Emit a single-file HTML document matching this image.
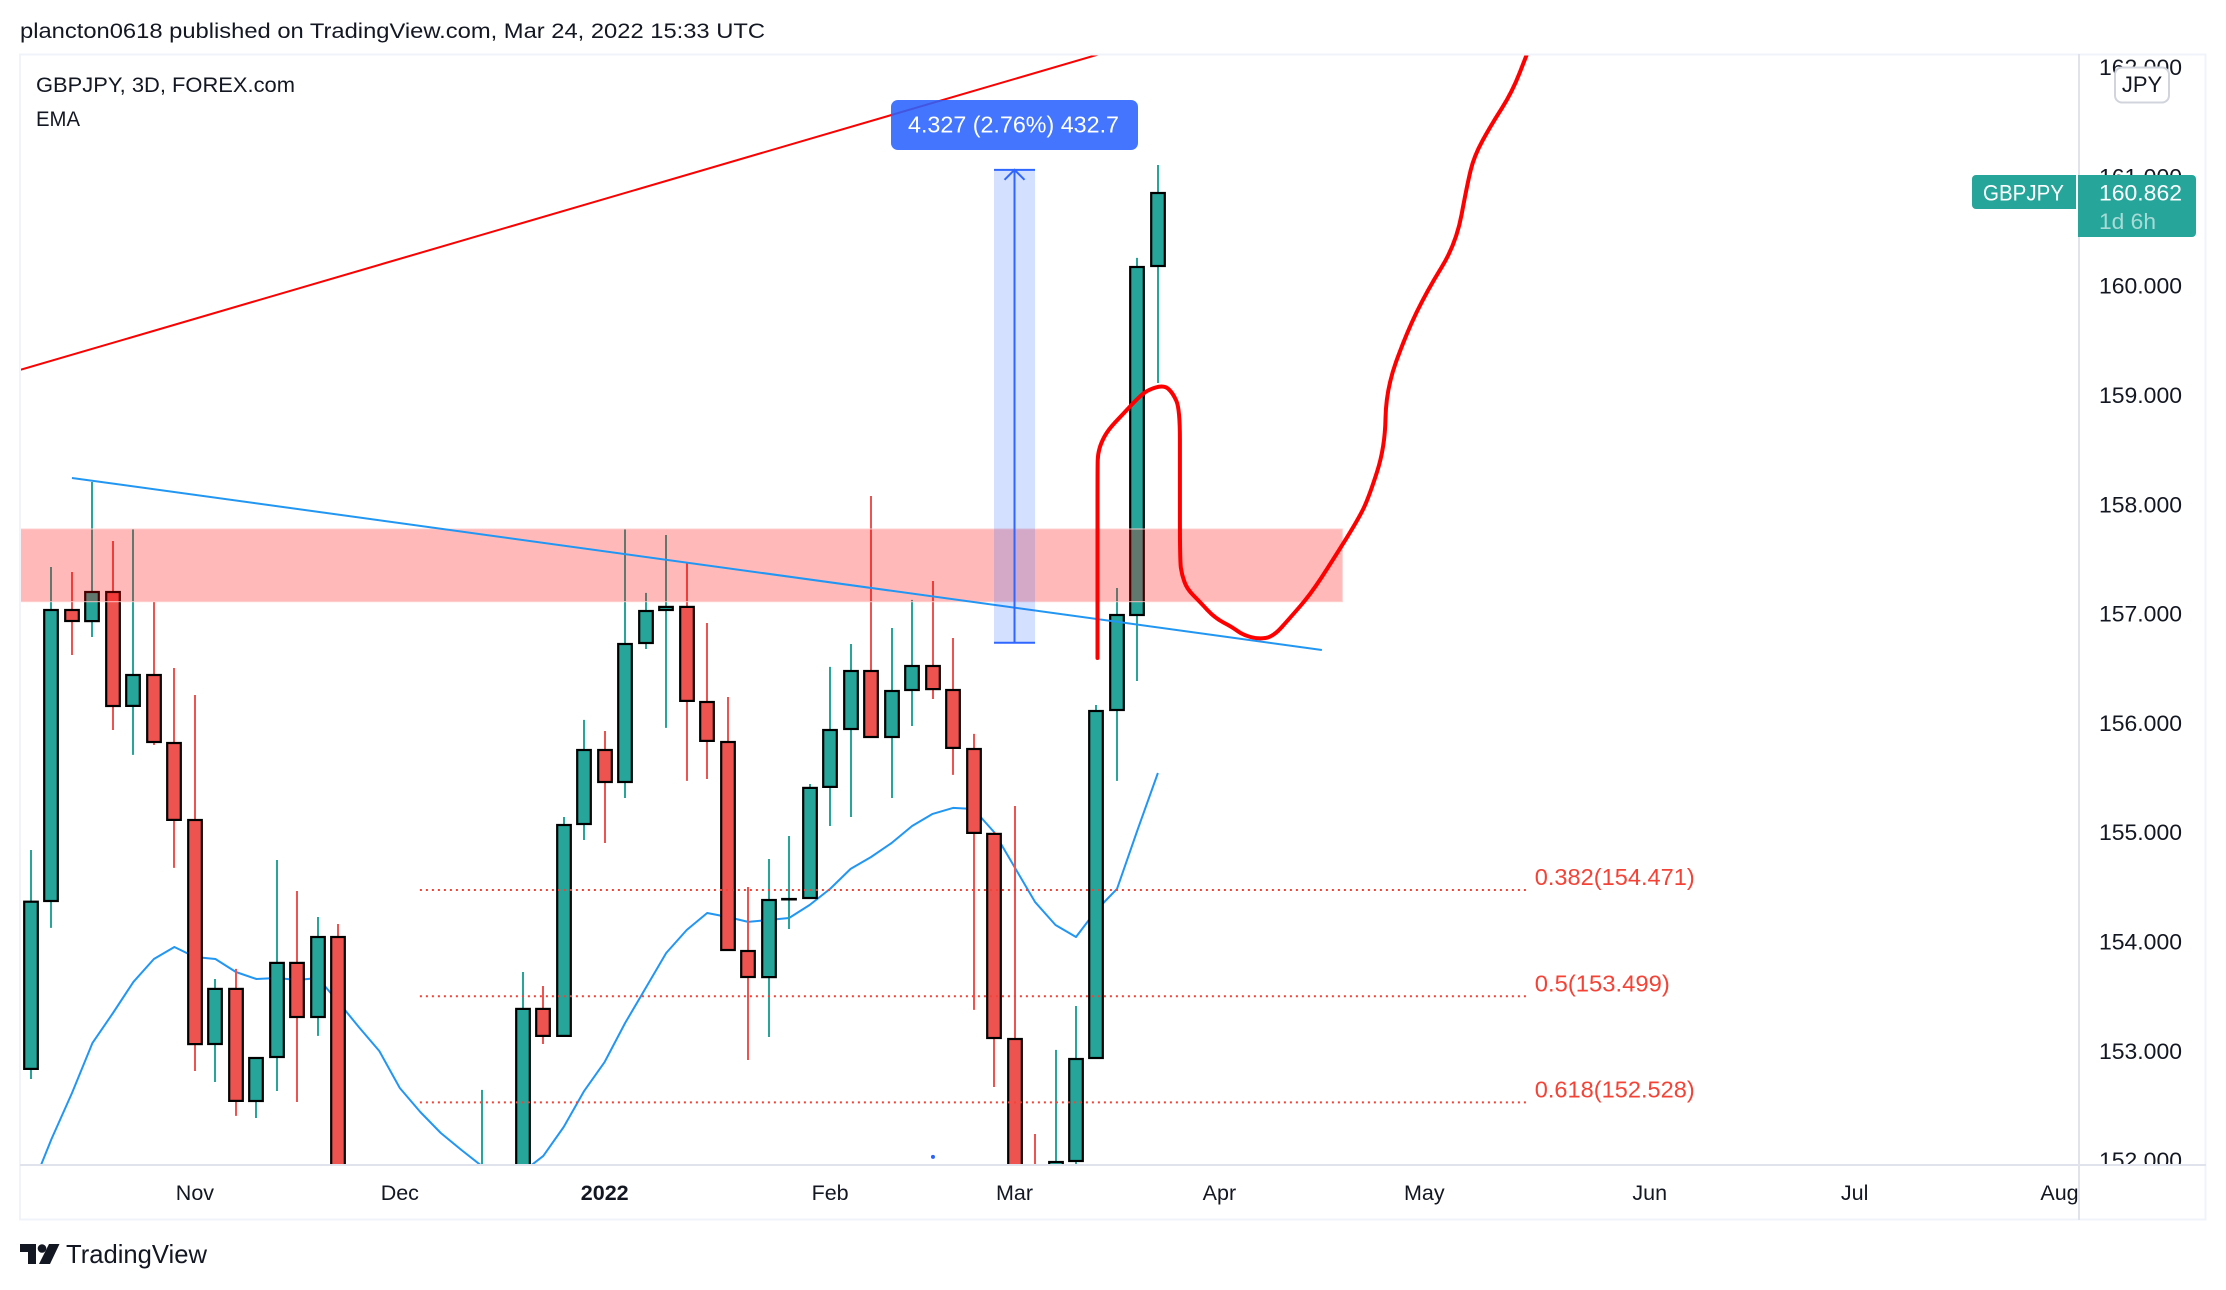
<!DOCTYPE html>
<html lang="en">
<head>
<meta charset="utf-8">
<title>GBPJPY 3D chart</title>
<style>
html,body{margin:0;padding:0;background:#fff;width:2226px;height:1290px;overflow:hidden}
svg{display:block;position:absolute;left:0;top:0}
text{font-family:"Liberation Sans",sans-serif;fill:#131722}
</style>
</head>
<body>
<svg id="chart" xmlns="http://www.w3.org/2000/svg" width="2226" height="1290" viewBox="0 0 2226 1290">
  <defs>
    <clipPath id="paneClip"><rect x="20" y="55" width="2058" height="1109"></rect></clipPath>
    <clipPath id="priceClip"><rect x="2080" y="55" width="125" height="1109"></rect></clipPath>
    <clipPath id="timeClip"><rect x="20" y="1166" width="2058" height="53"></rect></clipPath>
  </defs>
  <rect x="0" y="0" width="2226" height="1290" fill="#ffffff"></rect>
  <text x="20" y="38" font-size="21" textLength="745" lengthAdjust="spacingAndGlyphs">plancton0618 published on TradingView.com, Mar 24, 2022 15:33 UTC</text>
  <g id="pane" clip-path="url(#paneClip)"></g>
  <g id="priceAxis" clip-path="url(#priceClip)"></g>
  <g id="timeAxis" clip-path="url(#timeClip)"></g>
  <g fill="none">
    <rect x="20" y="54.5" width="2185.5" height="1165" stroke="#f0f3fa" stroke-width="2"></rect>
    <line x1="20" y1="1165" x2="2206" y2="1165" stroke="#e0e3eb" stroke-width="2"></line>
    <line x1="2079" y1="54" x2="2079" y2="1220" stroke="#e0e3eb" stroke-width="2"></line>
  </g>
  <text x="36" y="92" font-size="21.5" textLength="259" lengthAdjust="spacingAndGlyphs">GBPJPY, 3D, FOREX.com</text>
  <text x="36" y="126" font-size="21.5" textLength="44" lengthAdjust="spacingAndGlyphs">EMA</text>
  <g>
    <rect x="891" y="100" width="247" height="50" rx="7" fill="rgba(41,98,255,0.88)"></rect>
    <text x="908" y="132.5" font-size="23" textLength="211" lengthAdjust="spacingAndGlyphs" style="fill:#ffffff">4.327 (2.76%) 432.7</text>
  </g>
  <g>
    <rect x="2115" y="67.5" width="54" height="35" rx="7" fill="#ffffff" stroke="#d1d4dc" stroke-width="2"></rect>
    <text x="2142" y="92" font-size="22" text-anchor="middle">JPY</text>
  </g>
  <g>
    <path d="M2076 175H1976a4 4 0 0 0-4 4V205a4 4 0 0 0 4 4H2076Z" fill="#26a69a"></path>
    <text x="1983" y="200.5" font-size="22" textLength="81" lengthAdjust="spacingAndGlyphs" style="fill:#ffffff">GBPJPY</text>
    <path d="M2078 175H2192a4 4 0 0 1 4 4V233a4 4 0 0 1-4 4H2078Z" fill="#26a69a"></path>
    <text x="2099" y="200.5" font-size="22.5" textLength="83" lengthAdjust="spacingAndGlyphs" style="fill:#ffffff">160.862</text>
    <text x="2099" y="229" font-size="22.5" textLength="57" lengthAdjust="spacingAndGlyphs" style="fill:#a8dbd7">1d 6h</text>
  </g>
  <g>
    <path d="M20 1244H36V1264H28V1252H20Z" fill="#131722"></path>
    <circle cx="42" cy="1248.5" r="4.3" fill="#131722"></circle>
    <path d="M49 1244H59.5L50 1264H39Z" fill="#131722"></path>
    <text x="66" y="1263" font-size="26" textLength="141" lengthAdjust="spacingAndGlyphs">TradingView</text>
  </g>
</svg>
<script>
// ---- chart data (prices in JPY, positions in bar index) ----
var candleOpen = [152.834,154.371,157.033,156.932,157.198,156.155,156.438,155.816,155.112,153.062,153.566,152.541,152.943,153.804,153.309,154.041,150.9,150.2,150.9,151.3,150.5,151.2,150.6,151.5,151.7,153.383,153.136,155.075,155.752,155.459,156.731,157.033,157.061,156.191,155.825,153.913,153.675,154.389,154.398,155.414,155.944,156.475,155.871,156.301,156.521,156.301,155.761,154.984,153.108,151.3,151.9,151.992,152.934,156.118,156.987,160.180];
var candleHigh = [154.837,157.426,157.381,158.204,157.664,157.774,157.106,156.502,156.255,153.657,153.749,152.934,154.746,154.462,154.224,154.160,151.2,151.4,151.6,151.5,151.6,151.5,152.642,151.9,153.721,153.593,155.139,156.027,155.926,157.774,157.189,157.719,157.463,156.914,156.237,154.499,154.755,154.965,155.441,156.512,156.722,158.076,156.868,157.125,157.298,156.777,155.899,155.002,155.240,152.239,153.008,153.410,156.164,157.234,160.254,161.104];
var candleLow = [152.742,154.124,156.621,156.786,155.935,155.707,155.798,154.673,152.815,152.715,152.404,152.385,152.632,152.532,153.136,150.5,150.0,149.9,150.6,150.2,150.3,150.4,150.4,151.0,151.5,153.062,153.136,154.929,154.901,155.313,156.676,155.954,155.469,155.487,153.922,152.916,153.126,154.114,154.398,155.057,155.139,155.871,155.313,155.972,156.219,155.524,153.374,152.669,150.9,150.5,151.5,151.8,152.934,155.469,156.383,159.110];
var candleClose = [154.364,157.033,156.932,157.198,156.155,156.438,155.825,155.112,153.062,153.566,152.541,152.934,153.804,153.309,154.041,150.9,150.2,150.9,151.3,150.5,151.2,150.6,151.5,151.7,153.383,153.136,155.066,155.752,155.459,156.722,157.024,157.061,156.201,155.835,153.922,153.675,154.380,154.389,155.405,155.935,156.475,155.871,156.292,156.521,156.310,155.771,154.993,153.117,151.3,150.9,151.983,152.925,156.109,156.987,160.171,160.848];
var emaValues = [151.727,152.193,152.614,153.072,153.346,153.630,153.840,153.950,153.858,153.840,153.721,153.657,153.666,153.648,153.666,153.447,153.218,152.998,152.660,152.440,152.248,152.093,151.946,151.818,151.892,152.038,152.303,152.633,152.898,153.255,153.575,153.895,154.105,154.261,154.224,154.179,154.197,154.215,154.334,154.481,154.664,154.773,154.901,155.057,155.167,155.222,155.212,155.002,154.682,154.362,154.151,154.041,154.288,154.481,155.020,155.542];
var priceTicks = [162,161,160,159,158,157,156,155,154,153,152];
var timeLabels = ["Nov","Dec","2022","Feb","Mar","Apr","May","Jun","Jul","Aug"];
var timeLabelBars = [8,18,28,39,48,58,68,79,89,99];
var fibLevels = [154.471,153.499,152.528];
var fibRatios = ["0.382","0.5","0.618"];
var fibStartBar = 18.98;
var fibEndBar = 73;
var zoneBars = [-1,64];
var zonePrices = [157.774,157.109];
var redTrendBars = [-0.537,52.17];
var redTrendPrices = [159.229,162.120];
var blueTrendBars = [2,63];
var blueTrendPrices = [158.241,156.667];
var measureBars = [47,48,49];
var measurePrices = [156.733,161.060];
var sketchBars = [52.05,52.05,52.05,52.07,52.22,52.56,53.25,53.93,54.47,55.30,55.73,56.07,56.07,56.07,56.17,56.42,57.05,57.78,58.61,59.15,59.88,60.61,61.44,62.42,63.54,64.76,65.30,66.08,66.13,67.11,68.13,69.55,70.09,70.43,71.26,72.29,73.01];
var sketchPrices = [156.594,157.491,158.341,158.460,158.561,158.680,158.817,158.954,159.046,159.092,159.018,158.872,158.314,157.481,157.353,157.225,157.106,156.960,156.878,156.804,156.768,156.786,156.960,157.170,157.491,157.857,158.067,158.524,159.046,159.558,159.952,160.382,160.921,161.187,161.470,161.772,162.120];
var markerDotBar = 44.02;
var markerDotPrice = 152.03;

// ---- axis functions ----
function xAt(bar){ return 31 + 20.49 * bar; }
function yAt(price){ return 285.7 + (160 - price) * 109.3; }
// y for marks that may fall below the visible pane: stop just past its bottom edge
function yPane(price){ return Math.min(yAt(price), 1172); }

var NS = 'http://www.w3.org/2000/svg';
function make(tag, parent, attrs){
  var el = document.createElementNS(NS, tag);
  for (var k in attrs) el.setAttribute(k, attrs[k]);
  parent.appendChild(el);
  return el;
}
var pane = document.getElementById('pane');
var priceAxis = document.getElementById('priceAxis');
var timeAxis = document.getElementById('timeAxis');

// EMA
var emaPts = emaValues.map(function(v,i){ return xAt(i).toFixed(1)+','+yAt(v).toFixed(1); }).join(' ');
var emaLine = make('polyline', pane, {points:emaPts, fill:'none', stroke:'#2196f3', 'stroke-width':2, 'stroke-linejoin':'round'});



// Candles
candleOpen.forEach(function(o,i){
  var c = candleClose[i], up = c >= o;
  var col = up ? '#26a69a' : '#ef5350';
  var cx = Math.round(xAt(i));
  var g = make('g', pane, {});
  
  
  var wick = make('line', g, {x1:cx, x2:cx, y1:yPane(candleHigh[i]).toFixed(1), y2:yPane(candleLow[i]).toFixed(1), stroke:col, 'stroke-width':2});
  
  
  var top = yPane(Math.max(o,c)), bot = yPane(Math.min(o,c));
  var body = make('rect', g, {x:cx-6.8, width:13.6, y:top.toFixed(1), height:Math.max(bot-top,0.4).toFixed(1), fill:col, stroke:'#000000', 'stroke-width':2.2});
  
  
});

// Fibonacci levels
var fibLabelWidths = [160,135,160];
fibLevels.forEach(function(p,i){
  var ln = make('line', pane, {x1:xAt(fibStartBar), x2:xAt(fibEndBar), y1:yAt(p).toFixed(1), y2:yAt(p).toFixed(1), stroke:'#f44336', 'stroke-width':2, 'stroke-dasharray':'2 4'});
  
  
  var t = make('text', pane, {x:xAt(fibEndBar)+8, y:(yAt(p)-5).toFixed(1), 'font-size':23, textLength:fibLabelWidths[i], lengthAdjust:'spacingAndGlyphs', style:'fill:#f44336;font-family:"Liberation Sans",sans-serif'});
  t.textContent = fibRatios[i] + '(' + p.toFixed(3) + ')';
  
  
});

// Resistance zone
var zone = make('rect', pane, {x:xAt(zoneBars[0]), width:xAt(zoneBars[1])-xAt(zoneBars[0]), y:yAt(zonePrices[0]).toFixed(1), height:(yAt(zonePrices[1])-yAt(zonePrices[0])).toFixed(1), fill:'rgba(255,0,0,0.275)', stroke:'rgba(255,205,205,0.9)', 'stroke-width':1});



// Trend lines
var redTrend = make('line', pane, {x1:xAt(redTrendBars[0]), y1:yAt(redTrendPrices[0]), x2:xAt(redTrendBars[1]), y2:yAt(redTrendPrices[1]), stroke:'#ff0000', 'stroke-width':2});


var blueTrend = make('line', pane, {x1:xAt(blueTrendBars[0]), y1:yAt(blueTrendPrices[0]), x2:xAt(blueTrendBars[1]), y2:yAt(blueTrendPrices[1]), stroke:'#2196f3', 'stroke-width':2});



// Price-range measure
var mL = xAt(measureBars[0]), mC = xAt(measureBars[1]), mR = xAt(measureBars[2]);
var mB = yAt(measurePrices[0]), mT = yAt(measurePrices[1]);
var mArea = make('rect', pane, {x:mL, y:mT, width:mR-mL, height:mB-mT, fill:'rgba(41,98,255,0.2)'});


var mPath = 'M'+mL+' '+mB+'H'+mR+'M'+mL+' '+mT+'H'+mR+'M'+mC+' '+mB+'V'+mT+'M'+(mC-10)+' '+(mT+10)+'L'+mC+' '+mT+'L'+(mC+10)+' '+(mT+10);
var mLines = make('path', pane, {d:mPath, fill:'none', stroke:'#2f66ff', 'stroke-width':2});



var dot = make('circle', pane, {cx:xAt(markerDotBar), cy:yAt(markerDotPrice), r:2, fill:'#2962ff'});



// Hand-drawn projection
var sx = sketchBars.map(xAt), sy = sketchPrices.map(yAt);
var d = 'M'+sx[0].toFixed(1)+' '+sy[0].toFixed(1);
for (var i = 1; i < sx.length-1; i++){
  var mx = (sx[i]+sx[i+1])/2, my = (sy[i]+sy[i+1])/2;
  d += 'Q'+sx[i].toFixed(1)+' '+sy[i].toFixed(1)+' '+mx.toFixed(1)+' '+my.toFixed(1);
}
d += 'L'+sx[sx.length-1].toFixed(1)+' '+sy[sy.length-1].toFixed(1);
var sketch = make('path', pane, {d:d, fill:'none', stroke:'#ff0000', 'stroke-width':4, 'stroke-linecap':'round', 'stroke-linejoin':'round'});



// Axis labels
priceTicks.forEach(function(p){
  var t = make('text', priceAxis, {x:2099, y:(yAt(p)+8).toFixed(1), 'font-size':22.5, textLength:83, lengthAdjust:'spacingAndGlyphs'});
  t.textContent = p.toFixed(3);
  
  
});
timeLabels.forEach(function(s,i){
  var t = make('text', timeAxis, {x:xAt(timeLabelBars[i]), y:1200, 'font-size':21.5, 'text-anchor':'middle'});
  if (s === '2022') t.setAttribute('font-weight', 'bold');
  t.textContent = s;
  
  
});
</script>
</body>
</html>
